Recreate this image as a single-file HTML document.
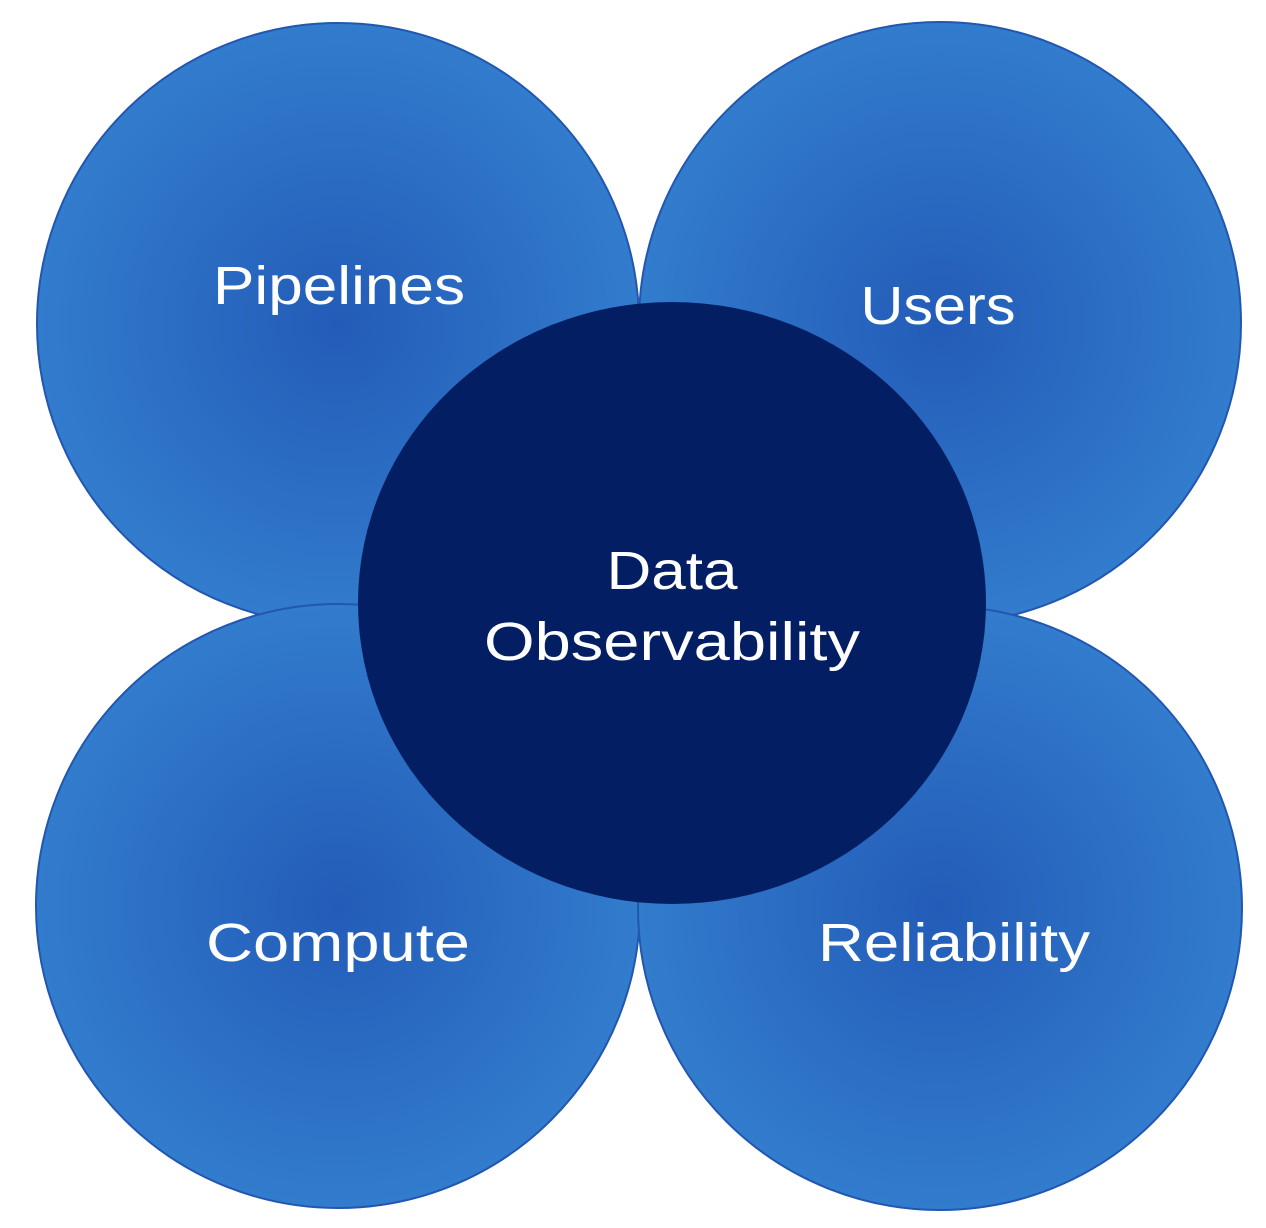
<!DOCTYPE html>
<html><head><style>html,body{margin:0;padding:0;background:#fff;}svg{display:block}</style></head>
<body>
<svg width="1266" height="1228" viewBox="0 0 1266 1228" xmlns="http://www.w3.org/2000/svg">
<defs>
<radialGradient id="g" cx="50%" cy="50%" r="50%">
<stop offset="0" stop-color="#235cb8"/>
<stop offset="1" stop-color="#327ccd"/>
</radialGradient>
</defs>
<g stroke="#2356b0" stroke-width="2" fill="url(#g)">
<circle cx="338" cy="324" r="301"/>
<circle cx="940" cy="323" r="301"/>
<circle cx="338" cy="906" r="302"/>
<circle cx="940" cy="908" r="302"/>
</g>
<ellipse cx="672" cy="603" rx="314" ry="301" fill="#031e63"/>
<g fill="#fff" font-family="Liberation Sans, sans-serif" font-size="54" text-anchor="middle" lengthAdjust="spacingAndGlyphs">
<text x="339" y="304" textLength="252" lengthAdjust="spacingAndGlyphs">Pipelines</text>
<text x="938" y="324" textLength="155" lengthAdjust="spacingAndGlyphs">Users</text>
<text x="338" y="961" textLength="264" lengthAdjust="spacingAndGlyphs">Compute</text>
<text x="954" y="961" textLength="272" lengthAdjust="spacingAndGlyphs">Reliability</text>
<text x="672" y="589" textLength="131" lengthAdjust="spacingAndGlyphs">Data</text>
<text x="672" y="660" textLength="376" lengthAdjust="spacingAndGlyphs">Observability</text>
</g>
</svg>
</body></html>
